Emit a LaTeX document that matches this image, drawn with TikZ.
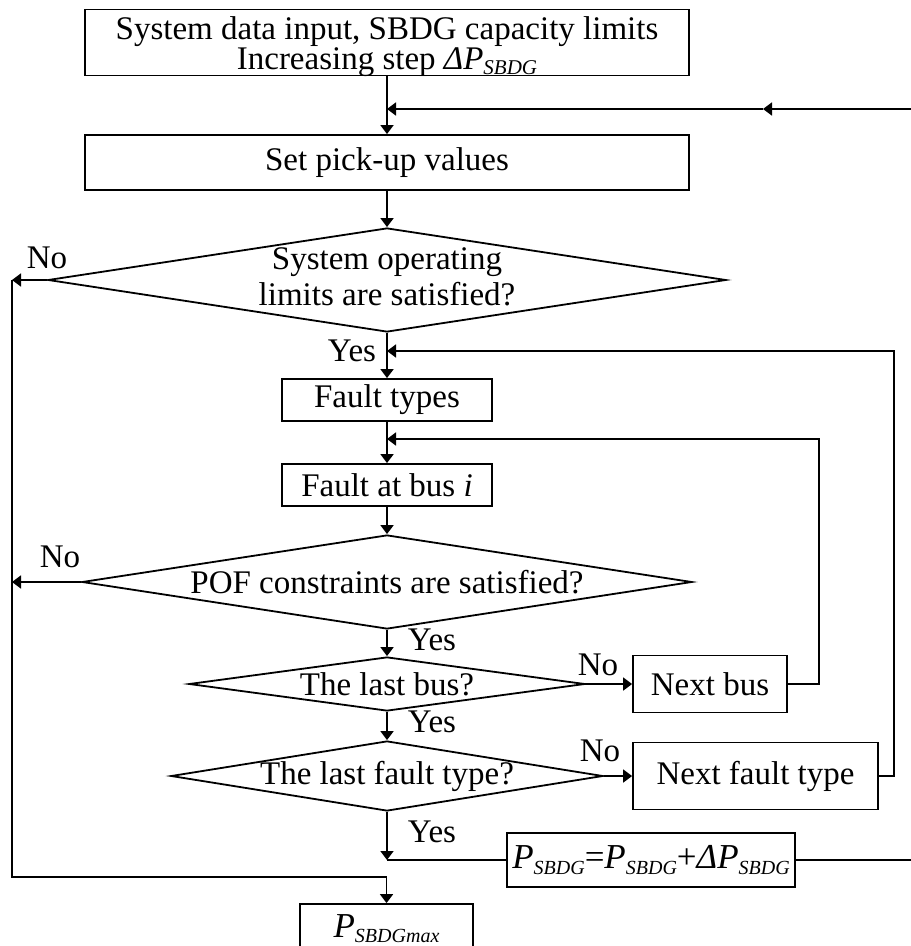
\documentclass[tikz,border=0pt]{standalone}
\usepackage{fontspec}
\setmainfont{Liberation Serif}
\usetikzlibrary{shapes.geometric,arrows.meta}

% italic quantity with a small, lowered italic subscript: {symbol}{index}{index size}
\newcommand{\qty}[3]{\textit{#1}\raisebox{-0.32ex}{\fontsize{#3}{#3}\selectfont\textit{#2}}}

\begin{document}
\begin{tikzpicture}[x=0.5pt,y=-0.5pt,line width=0.9pt,
  txt/.style={font=\fontsize{16.5}{18}\selectfont},
  big/.style={font=\fontsize{17.5}{19}\selectfont},
  box/.style={draw,rectangle,inner sep=0pt,txt,align=center},
  dec/.style={draw,diamond,inner sep=0pt,txt,align=center},
  lab/.style={txt,inner sep=0pt},
  arr/.style={-{Triangle[length=4.5pt,width=6.5pt]}}]
\useasboundingbox (0,0) rectangle (910,946);

% process boxes
\node[box,minimum width=302pt,minimum height=32.5pt] (top) at (387,42.5)
  {\raisebox{-2.5pt}[\height][\depth]{\begin{tabular}{@{}c@{}}System data input, SBDG capacity limits\\[-3pt]
   Increasing step \qty{ΔP}{SBDG}{10.5}\end{tabular}}};
\node[box,minimum width=302pt,minimum height=27.5pt] (pick) at (387,162.5) {Set pick-up values};
\node[dec,minimum width=339pt,minimum height=52pt] (d1) at (387,280)
  {\makebox[0pt]{\begin{tabular}{@{}c@{}}System operating\\ limits are satisfied?\end{tabular}}};
\node[box,minimum width=105pt,minimum height=21pt] (types) at (387,400) {Fault types};
\node[box,minimum width=105pt,minimum height=21pt] (bus) at (387,485) {Fault at bus \textit{i}};
\node[dec,minimum width=305pt,minimum height=47pt] (d2) at (387,582)
  {\makebox[0pt]{POF constraints are satisfied?}};
\node[dec,minimum width=198pt,minimum height=27pt] (d3) at (387,684)
  {\makebox[0pt]{The last bus?}};
\node[dec,minimum width=216pt,minimum height=35pt] (d4) at (387,776)
  {\makebox[0pt]{The last fault type?}};
\node[box,minimum width=77pt,minimum height=28.5pt] (nbus) at (710,684) {Next bus};
\node[box,minimum width=122.5pt,minimum height=33.5pt] (nft) at (755.5,776) {Next fault type};
\node[box,big,minimum width=144pt,minimum height=27pt] (pupd) at (651,860)
  {\qty{P}{SBDG}{10}=\qty{P}{SBDG}{10}+\qty{ΔP}{SBDG}{10}};
\node[box,big,minimum width=86.5pt,minimum height=25pt] (pmax) at (386.5,929) {\qty{P}{SBDGmax}{10}};

% junctions and corners of the return paths
\coordinate (jtop) at (387,109);
\coordinate (mid) at (763,109);
\coordinate (edgeB) at (912,860);
\coordinate (edgeT) at (912,109);
\coordinate (jft) at (387,351);
\coordinate (jbus) at (387,439);
\coordinate (merge) at (387,860);
\coordinate (lt) at (12,280);
\coordinate (lb) at (12,877);

% main flow
\draw[arr] (top) -- (pick);
\draw[arr] (pick) -- (d1);
\draw[arr] (d1.south) -- (types);
\draw[arr] (types) -- (bus);
\draw[arr] (bus) -- (d2);
\draw[arr] (d2) -- (d3);
\draw[arr] (d3) -- (d4);
\draw[arr] (d4.south) -- (merge);
\draw (pupd.west) -- (merge);
\draw[arr] (d3.east) -- (nbus.west);
\draw[arr] (d4.east) -- (nft.west);

% loops back
\draw[arr] (nbus.east) -- ++(31,0) |- (jbus);
\draw[arr] (nft.east) -- ++(15,0) |- (jft);
\draw[arr] (pupd.east) -- (edgeB) -- (edgeT) -- (mid);
\draw[arr] (mid) -- (jtop);

% rejection branch to the result
\draw[arr] (d1.west) -- (lt);
\draw[arr] (d2.west) -- (d2.west -| lt);
\draw[arr] (lt) -- (lb) -| (pmax.north);

% branch labels
\node[lab] at (47,258) {No};
\node[lab] at (60,557) {No};
\node[lab] at (352,351) {Yes};
\node[lab] at (432,640) {Yes};
\node[lab] at (432,722) {Yes};
\node[lab] at (432,832) {Yes};
\node[lab] at (598,665) {No};
\node[lab] at (600,751) {No};
\end{tikzpicture}
\end{document}
